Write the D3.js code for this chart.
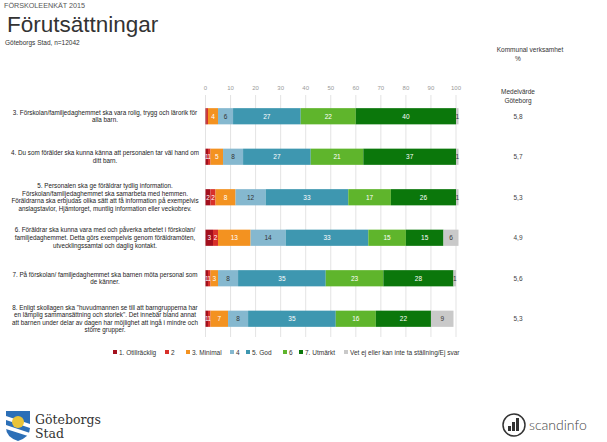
<!DOCTYPE html>
<html><head><meta charset="utf-8">
<script src="https://cdn.jsdelivr.net/npm/d3@7"></script>
<style>body{margin:0;background:#fff;font-family:Arial,"Liberation Sans",sans-serif}</style>
</head><body><svg id="c" width="607" height="442"></svg>
<script>
const questions = [
  ["3. Förskolan/familjedaghemmet ska vara rolig, trygg och lärorik för","alla barn."],
  ["4. Du som förälder ska kunna känna att personalen tar väl hand om","ditt barn."],
  ["5. Personalen ska ge föräldrar tydlig information.","Förskolan/familjedaghemmet ska samarbeta med hemmen.","Föräldrarna ska erbjudas olika sätt att få information på exempelvis","anslagstavlor, Hjämtorget, muntlig information eller veckobrev."],
  ["6. Föräldrar ska kunna vara med och påverka arbetet i förskolan/","familjedaghemmet.  Detta görs exempelvis genom föräldramöten,","utvecklingssamtal och daglig kontakt."],
  ["7. På förskolan/ familjedaghemmet ska barnen möta personal som","de känner."],
  ["8. Enligt skollagen ska \"huvudmannen se till att barngrupperna har","en lämplig sammansättning och storlek\".  Det innebär bland annat","att barnen under delar av dagen har möjlighet att ingå i mindre och","större grupper."]
];
const seriesNames = ["1. Otillräcklig","2","3. Minimal","4","5. God","6","7. Utmärkt","Vet ej eller kan inte ta ställning/Ej svar"];
const s1 = [0.5, 1, 2, 3, 1, 1];
const s2 = [0.5, 1, 2, 2, 1, 1];
const s3 = [4, 5, 8, 13, 3, 7];
const s4 = [6, 8, 12, 14, 8, 8];
const s5 = [27, 27, 33, 33, 35, 35];
const s6 = [22, 21, 17, 15, 23, 16];
const s7 = [40, 37, 26, 15, 28, 22];
const s8 = [1, 1, 1, 6, 1, 9];
const labels1 = ["1","1","2","3","1","1"];
const labels2 = ["1","1","2","2","1","1"];
const means = ["5,8","5,7","5,3","4,9","5,6","5,3"];
const ticks = [0,10,20,30,40,50,60,70,80,90,100];
const colors = ["#a3101d","#d8302a","#f39220","#85b8cf","#3e97b0","#5fb52c","#0b770b","#c9c9c9"];

const series = [s1,s2,s3,s4,s5,s6,s7,s8];
const svg = d3.select("#c");
const x = d3.scaleLinear().domain([0,100]).range([205.5,456]);
const y = d3.scaleBand().domain(d3.range(6)).range([96,339]).paddingInner(0.6).paddingOuter(0.3);

// header
svg.append("text").attr("x",4).attr("y",8).attr("font-size",7.2).attr("fill","#555").text("FÖRSKOLEENKÄT 2015");
svg.append("text").attr("x",7).attr("y",32).attr("font-size",22.5).attr("fill","#333").text("Förutsättningar");
svg.append("text").attr("x",5).attr("y",45).attr("font-size",6.5).attr("fill","#333").text("Göteborgs Stad, n=12042");

// right header
svg.append("text").attr("x",530).attr("y",52).attr("font-size",6.5).attr("text-anchor","middle").attr("fill","#333").text("Kommunal verksamhet");
svg.append("text").attr("x",518).attr("y",61).attr("font-size",6.5).attr("text-anchor","middle").attr("fill","#333").text("%");
svg.append("text").attr("x",518).attr("y",94).attr("font-size",6.5).attr("text-anchor","middle").attr("fill","#333").text("Medelvärde");
svg.append("text").attr("x",518).attr("y",103).attr("font-size",6.5).attr("text-anchor","middle").attr("fill","#333").text("Göteborg");

// grid
const g = svg.append("g");
g.selectAll("line.grid").data(ticks).join("line")
  .attr("x1",d=>x(d)).attr("x2",d=>x(d)).attr("y1",95).attr("y2",337)
  .attr("stroke","#dcdcdc").attr("stroke-width",0.8);
g.selectAll("text.tick").data(ticks).join("text")
  .attr("x",d=>x(d)).attr("y",90).attr("text-anchor","middle")
  .attr("font-size",6).attr("fill","#999").text(d=>d);

// bars
questions.forEach((q,i)=>{
  let cum = 0;
  const yy = y(i), h = y.bandwidth();
  series.forEach((s,k)=>{
    const v = s[i];
    const x0 = x(cum), x1 = x(cum+v);
    g.append("rect").attr("x",x0).attr("y",yy).attr("width",Math.max(0,x1-x0)).attr("height",h).attr("fill",colors[k]);
    let lab = k===0 ? labels1[i] : k===1 ? labels2[i] : String(v);
    if (x1-x0 >= 2.5) {
      const dark = (k===3 || k===7);
      g.append("text").attr("x",(x0+x1)/2).attr("y",yy+h/2+2.3)
        .attr("text-anchor","middle").attr("font-size",6.5)
        .attr("fill",dark?"#333":"#fff").text(lab);
    }
    cum += v;
  });
  // question text
  const lh = 7.6;
  const cy = yy + h/2;
  const startY = cy - (q.length-1)*lh/2 + 2.3;
  q.forEach((line,j)=>{
    svg.append("text").attr("x",105).attr("y",startY+j*lh).attr("text-anchor","middle")
      .attr("font-size",6.3).attr("fill","#222").text(line);
  });
  svg.append("text").attr("x",518).attr("y",cy+2.5).attr("text-anchor","middle")
    .attr("font-size",6.5).attr("fill","#444").text(means[i]);
});

// legend
const legX = [113,165,186,230,246,283,299,344];
seriesNames.forEach((n,k)=>{
  svg.append("rect").attr("x",legX[k]).attr("y",350).attr("width",4).attr("height",4).attr("fill",colors[k]);
  svg.append("text").attr("x",legX[k]+6).attr("y",354.5).attr("font-size",6.5).attr("fill","#333").text(n);
});

// Göteborgs Stad logo
const lg = svg.append("g");
lg.append("path").attr("d","M6,411 L30,411 L30,428 Q30,437 18,441 Q6,437 6,428 Z").attr("fill","#2c6fb7");
lg.append("path").attr("d","M6,416 L30,424 L30,428 L6,420 Z M6,425 L30,433 L28,436 L6,429 Z").attr("fill","#fff");
lg.append("circle").attr("cx",18).attr("cy",422).attr("r",6).attr("fill","#e9c43a");
lg.append("text").attr("x",35).attr("y",424).attr("font-family","DejaVu Serif, serif").attr("font-size",12.5).attr("fill","#333").text("Göteborgs");
lg.append("text").attr("x",35).attr("y",438).attr("font-family","DejaVu Serif, serif").attr("font-size",12.5).attr("fill","#333").text("Stad");

// scandinfo logo
const sl = svg.append("g");
sl.append("circle").attr("cx",514).attr("cy",425).attr("r",11).attr("fill","none").attr("stroke","#333").attr("stroke-width",1.5);
[[508,426,3,5],[512,422,3,9],[516,418,3,13]].forEach(b=>{
  sl.append("rect").attr("x",b[0]).attr("y",b[1]).attr("width",b[2]).attr("height",b[3]).attr("fill","#333");
});
sl.append("text").attr("x",529).attr("y",430).attr("font-size",14).attr("font-family","Lato, sans-serif").attr("font-weight",300).attr("fill","#444").text("scandinfo");
</script></body></html>
